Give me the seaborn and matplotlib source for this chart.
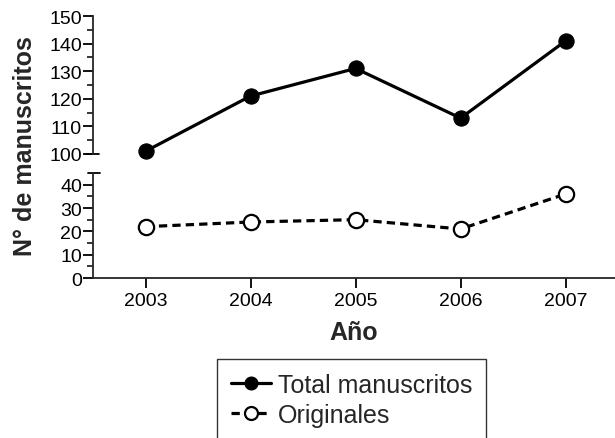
import matplotlib
matplotlib.use("Agg")
import matplotlib.pyplot as plt
import seaborn as sns
import pandas as pd
import numpy as np

years = [2003, 2004, 2005, 2006, 2007]
total_manuscritos = [101, 121, 131, 113, 141]
originales = [22, 24, 25, 21, 36]
top_ticks = [100, 110, 120, 130, 140, 150]
bottom_ticks = [0, 10, 20, 30, 40]

sns.set_style("ticks")
plt.rcParams['font.family'] = ['Liberation Sans', 'DejaVu Sans']

df_total = pd.DataFrame({"Año": years, "valor": total_manuscritos})
df_orig = pd.DataFrame({"Año": years, "valor": originales})

fig = plt.figure(figsize=(6.15, 4.39), dpi=100)
W, H = 615, 439
left = 93 / W
ax_top = fig.add_axes([left, 1 - 155 / H, 1 - left, (155 - 17) / H])
ax_bot = fig.add_axes([left, 1 - 279 / H, 1 - left, (279 - 174) / H])

lw = 2.3
sns.lineplot(data=df_total, x="Año", y="valor", ax=ax_top, color="black",
             linewidth=lw, marker="o", markersize=11, markerfacecolor="black",
             markeredgecolor="black", clip_on=False, label="Total manuscritos",
             legend=False)
sns.lineplot(data=df_orig, x="Año", y="valor", ax=ax_bot, color="black",
             linewidth=lw, linestyle=(0, (2.6, 1.6)), marker="o", markersize=11,
             markerfacecolor="white", markeredgecolor="black", markeredgewidth=1.6,
             clip_on=False, label="Originales", legend=False)

xlim = (2002.5, 2007.47)
for ax in (ax_top, ax_bot):
    ax.set_xlim(*xlim)
    ax.patch.set_alpha(0)
    ax.spines['right'].set_visible(False)
    ax.spines['top'].set_visible(False)
    ax.spines['left'].set_linewidth(1.3)
    ax.tick_params(axis='y', which='major', direction='out', length=7, width=1.3,
                   labelsize=14, pad=1, colors='black')
    ax.tick_params(axis='y', which='minor', direction='out', length=4, width=1.3)
    ax.set_ylabel("")

ax_top.set_ylim(100, 150)
ax_top.set_yticks(top_ticks)
ax_top.set_yticks([105, 115, 125, 135, 145], minor=True)
ax_top.spines['bottom'].set_visible(False)
ax_top.tick_params(axis='x', which='both', bottom=False, labelbottom=False)
ax_top.set_xlabel("")

ax_bot.set_ylim(0, 45)
ax_bot.set_yticks(bottom_ticks)
ax_bot.set_yticks([5, 15, 25, 35], minor=True)
ax_bot.set_xticks(years)
ax_bot.set_xticklabels([str(y) for y in years])
ax_bot.spines['bottom'].set_linewidth(1.3)
ax_bot.tick_params(axis='x', which='major', direction='out', length=7, width=1.3,
                   labelsize=14, pad=3, colors='black')
ax_bot.set_xlabel("Año", fontsize=18, fontweight='bold', labelpad=8)

axw = W - 93
ax_top.plot([-7 / axw, 6 / axw], [0, 0], transform=ax_top.transAxes,
            color='black', lw=1.3, clip_on=False)
ax_bot.plot([-5 / axw, 7 / axw], [1, 1], transform=ax_bot.transAxes,
            color='black', lw=1.3, clip_on=False)

fig.text(25 / W, 1 - 146 / H, "N° de manuscritos", rotation=90, fontsize=18,
         fontweight='bold', ha='center', va='center')

handles = ax_top.get_lines()[:1] + ax_bot.get_lines()[:1]
labels = ["Total manuscritos", "Originales"]
leg = fig.legend(handles, labels, loc='upper left',
                 bbox_to_anchor=(217 / W, 1 - 360 / H), fontsize=18,
                 frameon=True, fancybox=False, edgecolor='black',
                 handlelength=1.6, handletextpad=0.3, borderpad=0.55,
                 labelspacing=0.25, borderaxespad=0, markerscale=0.85)
leg.get_frame().set_linewidth(1.0)

fig.savefig("out.png", dpi=100)
